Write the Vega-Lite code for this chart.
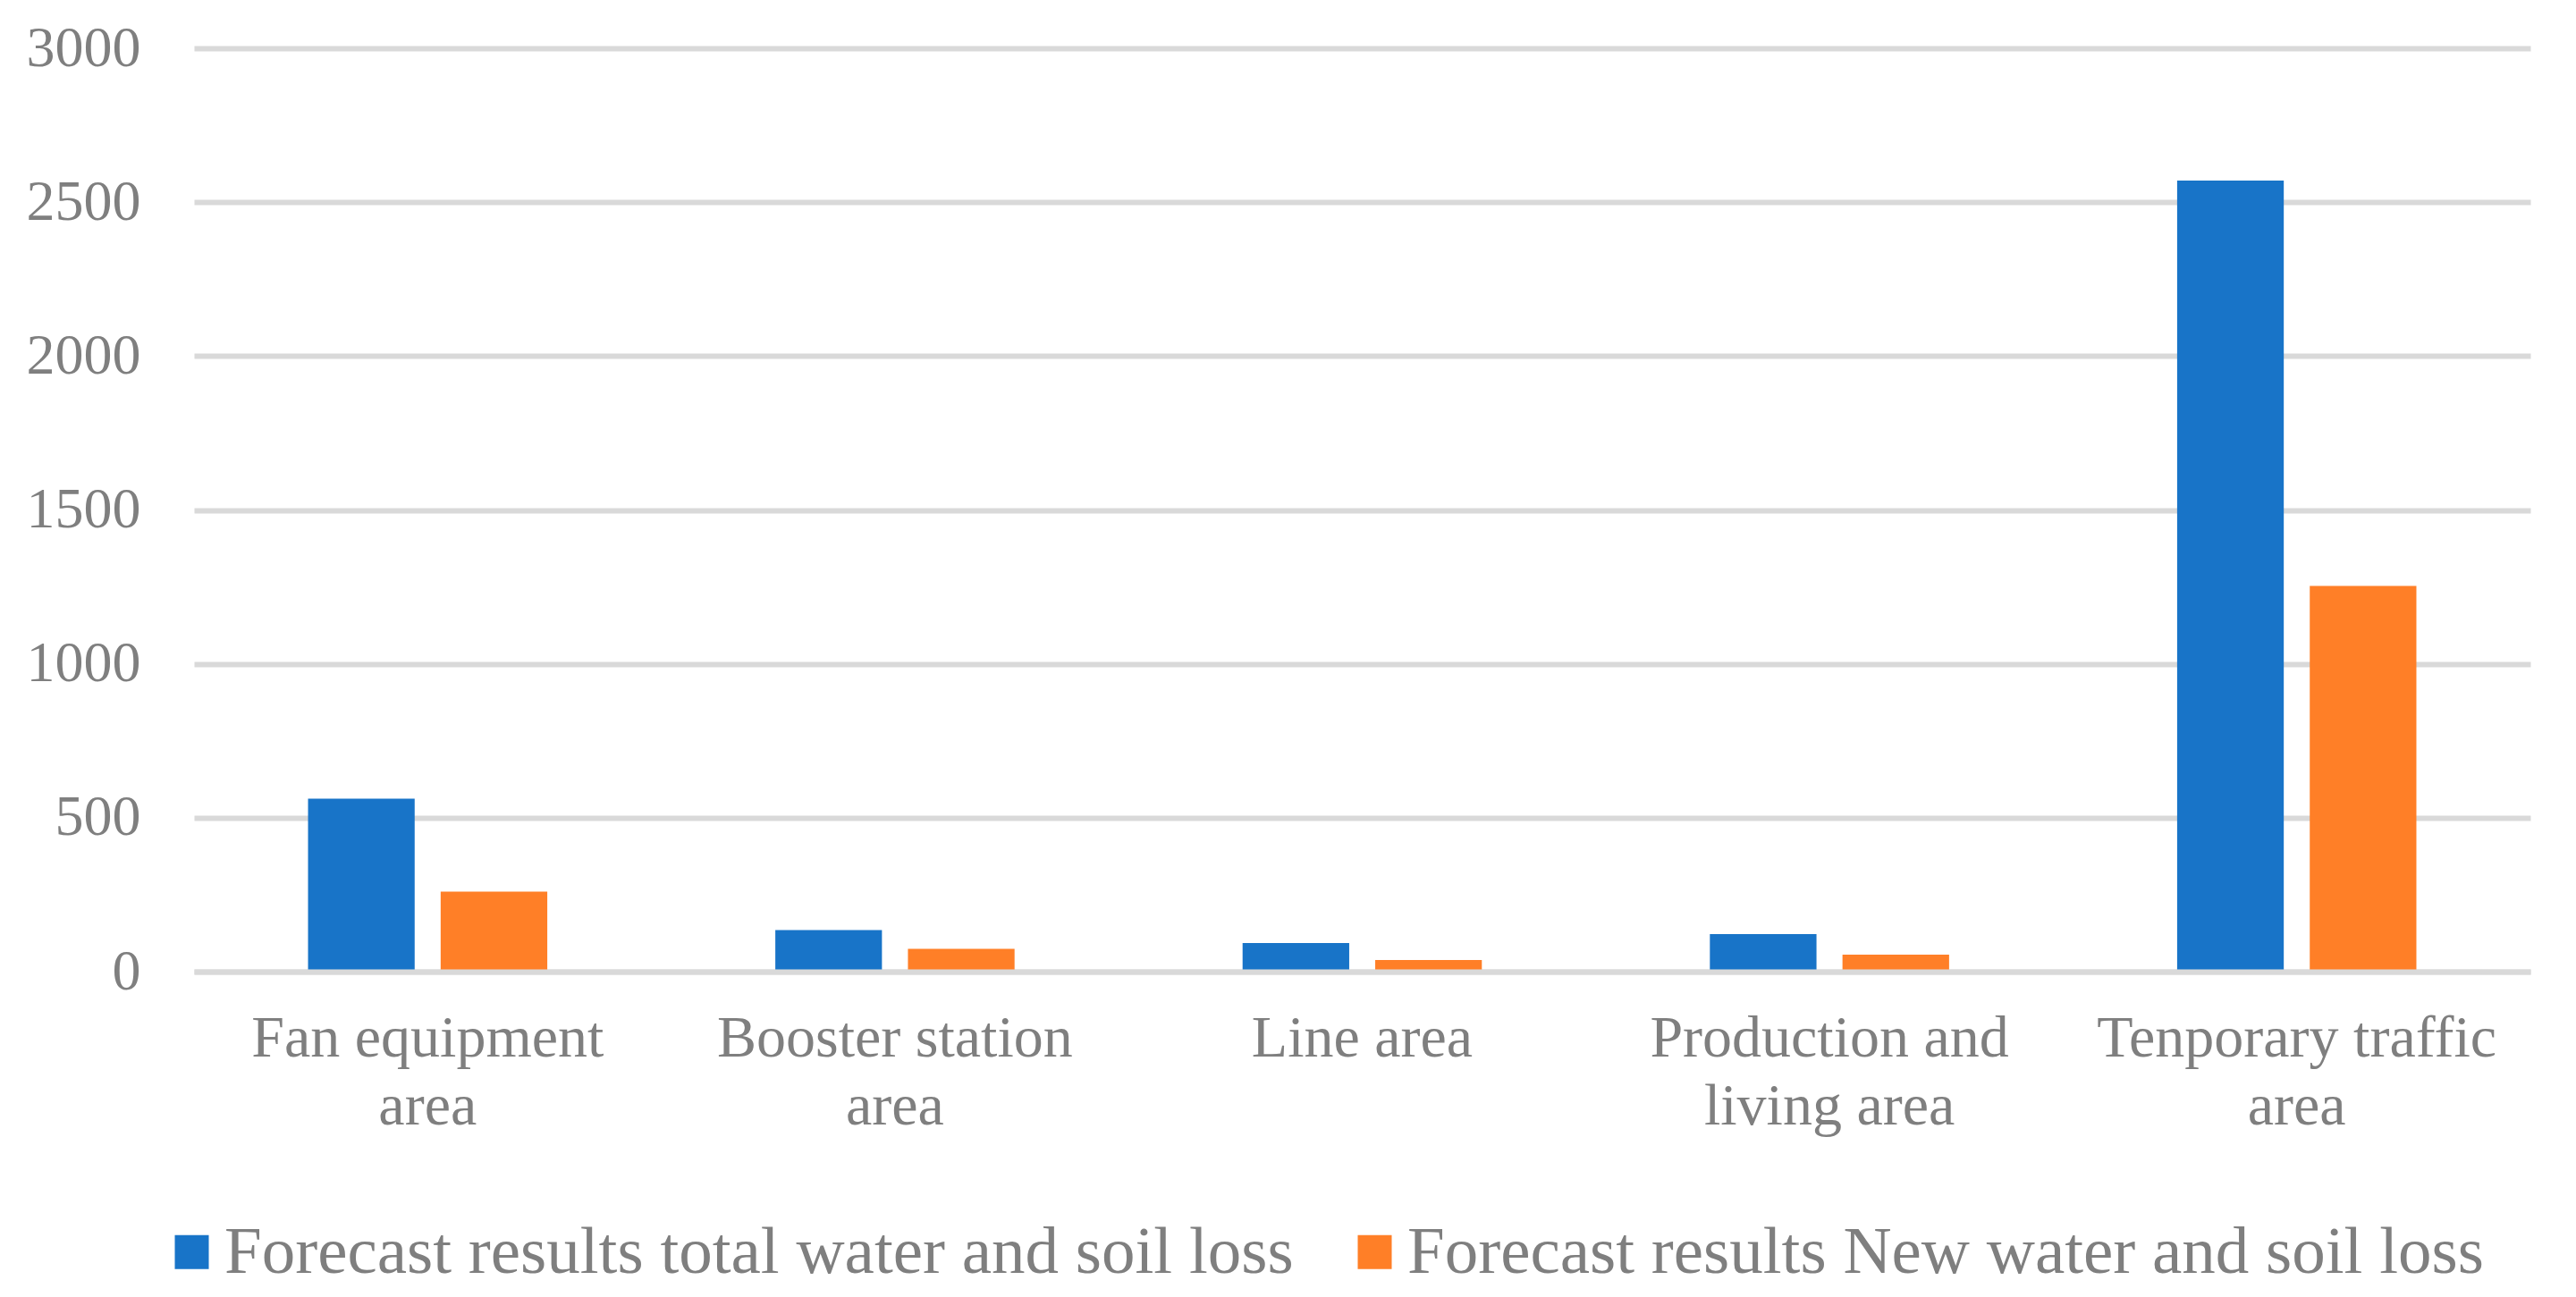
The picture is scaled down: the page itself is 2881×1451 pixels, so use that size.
{
  "$schema": "https://vega.github.io/schema/vega-lite/v6.json",
  "autosize": {"type": "none"},
  "width": 2613,
  "height": 1033,
  "padding": {"left": 217, "top": 54, "right": 51, "bottom": 364},
  "background": "white",
  "data": {
    "values": [
      {"area": "Fan equipment area", "series": "Forecast results total water and soil loss", "value": 562},
      {"area": "Fan equipment area", "series": "Forecast results New water and soil loss", "value": 260},
      {"area": "Booster station area", "series": "Forecast results total water and soil loss", "value": 135},
      {"area": "Booster station area", "series": "Forecast results New water and soil loss", "value": 74},
      {"area": "Line area", "series": "Forecast results total water and soil loss", "value": 93},
      {"area": "Line area", "series": "Forecast results New water and soil loss", "value": 38},
      {"area": "Production and living area", "series": "Forecast results total water and soil loss", "value": 122},
      {"area": "Production and living area", "series": "Forecast results New water and soil loss", "value": 55},
      {"area": "Tenporary traffic area", "series": "Forecast results total water and soil loss", "value": 2570},
      {"area": "Tenporary traffic area", "series": "Forecast results New water and soil loss", "value": 1253}
    ]
  },
  "mark": {"type": "bar"},
  "encoding": {
    "x": {
      "field": "area",
      "type": "nominal",
      "sort": null,
      "scale": {"paddingInner": 0.488, "paddingOuter": 0.244},
      "axis": {
        "title": null,
        "labelAngle": 0,
        "labelFont": "Liberation Serif",
        "labelFontSize": 66,
        "labelColor": "#7f7f7f",
        "labelPadding": 42,
        "labelLineHeight": 76,
        "labelBaseline": "top",
        "labelLimit": 0,
        "labelOverlap": false,
        "ticks": false,
        "domain": true,
        "domainColor": "#d9d9d9",
        "domainWidth": 6,
        "zindex": 1,
        "labelExpr": "datum.label == 'Fan equipment area' ? ['Fan equipment', 'area'] : datum.label == 'Booster station area' ? ['Booster station', 'area'] : datum.label == 'Production and living area' ? ['Production and', 'living area'] : datum.label == 'Tenporary traffic area' ? ['Tenporary traffic', 'area'] : datum.label"
      }
    },
    "xOffset": {
      "field": "series",
      "type": "nominal",
      "sort": ["Forecast results total water and soil loss", "Forecast results New water and soil loss"],
      "scale": {"paddingInner": 0.196, "paddingOuter": 0}
    },
    "y": {
      "field": "value",
      "type": "quantitative",
      "scale": {"domain": [0, 3000], "nice": false},
      "axis": {
        "title": null,
        "values": [0, 500, 1000, 1500, 2000, 2500, 3000],
        "format": "d",
        "labelFont": "Liberation Serif",
        "labelFontSize": 64,
        "labelColor": "#7f7f7f",
        "labelPadding": 60,
        "ticks": false,
        "domain": false,
        "grid": true,
        "gridColor": "#d9d9d9",
        "gridWidth": 6
      }
    },
    "color": {
      "field": "series",
      "type": "nominal",
      "sort": ["Forecast results total water and soil loss", "Forecast results New water and soil loss"],
      "scale": {"range": ["#1874C8", "#FF7F27"]},
      "legend": {
        "title": null,
        "orient": "none",
        "direction": "horizontal",
        "columns": 2,
        "legendX": -40,
        "legendY": 1309,
        "padding": 0,
        "symbolType": "square",
        "symbolSize": 1444,
        "symbolStrokeWidth": 0,
        "labelFont": "Liberation Serif",
        "labelFontSize": 75,
        "labelColor": "#7f7f7f",
        "labelOffset": -1,
        "labelLimit": 2000,
        "columnPadding": 53
      }
    }
  },
  "config": {"view": {"stroke": null}}
}
